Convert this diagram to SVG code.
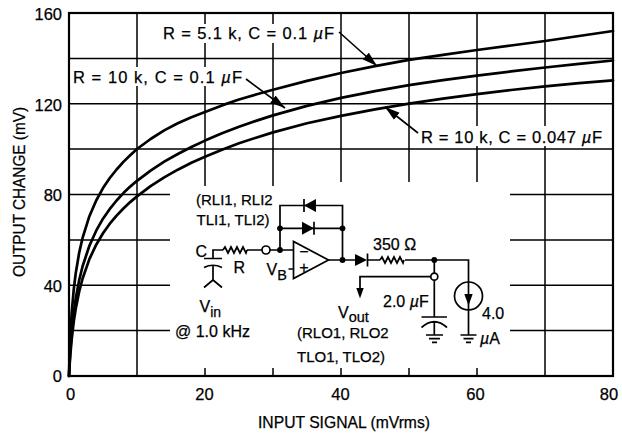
<svg xmlns="http://www.w3.org/2000/svg" width="622" height="437" viewBox="0 0 622 437">
<style>
text { font-family: "Liberation Sans", Arial, sans-serif; fill: #000; stroke: #000; stroke-width: 0.25; }
.t { font-size: 16.5px; }
.c { font-size: 16px; }
.s { font-size: 15px; }
.grid { stroke: #000; stroke-width: 1.5; fill: none; }
.curve { stroke: #000; stroke-width: 2.7; fill: none; stroke-linejoin: round; stroke-linecap: round; }
.w { stroke: #000; stroke-width: 1.7; fill: none; }
.blk { fill: #000; stroke: none; }
.bg { fill: #fff; stroke: none; }
.ptr { stroke: #000; stroke-width: 1.6; fill: none; marker-end: url(#ah); }
</style>
<defs>
<marker id="ah" markerUnits="userSpaceOnUse" markerWidth="16" markerHeight="10" refX="15" refY="5" orient="auto">
<path d="M0,0.5 L15,5 L0,9.5 Z" fill="#000"/>
</marker>
</defs>
<rect width="622" height="437" fill="#fff"/>

<g id="grid">
<path class="grid" d="M137,13V376 M545,13V376 M205,13V186 M273,13V186 M341,13V182 M409,13V182 M477,13V182 M205,368V376 M273,368V376 M341,368V376 M409,368V376 M477,368V376 M69,58.4H613 M69,103.8H613 M69,149.1H613 M69,194.5H170 M510,194.5H613 M69,239.9H170 M510,239.9H613 M69,285.3H170 M510,285.3H613 M69,330.6H170 M510,330.6H613"/>
<rect x="69" y="13" width="544" height="363" fill="none" stroke="#000" stroke-width="2.2"/>
</g>

<g id="axis-labels">
<text class="t" x="62" y="20" text-anchor="end">160</text>
<text class="t" x="62" y="111" text-anchor="end">120</text>
<text class="t" x="62" y="200.5" text-anchor="end">80</text>
<text class="t" x="62" y="291.5" text-anchor="end">40</text>
<text class="t" x="62" y="381.5" text-anchor="end">0</text>
<text class="t" x="70.5" y="400" text-anchor="middle">0</text>
<text class="t" x="204.5" y="400" text-anchor="middle">20</text>
<text class="t" x="340.5" y="400" text-anchor="middle">40</text>
<text class="t" x="475.5" y="400" text-anchor="middle">60</text>
<text class="t" x="609" y="400" text-anchor="middle">80</text>
<text class="t" x="258" y="428" textLength="172" lengthAdjust="spacingAndGlyphs">INPUT SIGNAL (mVrms)</text>
<text class="t" transform="translate(25,277) rotate(-90)" textLength="170" lengthAdjust="spacingAndGlyphs">OUTPUT CHANGE (mV)</text>
</g>

<g id="curves">
<polyline id="curve-5k1-0u1" class="curve" points="69,376 69.34,363.1 69.68,352.6 70.36,336 71.72,312.7 73.76,289.3 75.8,272.7 79.2,252.6 82.6,237.8 89.4,216.2 96.2,200.5 103,188.1 109.8,178 116.6,169.5 123.4,161.9 130.2,155.2 137,149 150.6,139 164.2,130.4 177.8,123.3 191.4,117.2 205,112 222,105.4 239,99.5 256,94.5 273,89.8 307,80.9 341,73 375,66.1 409,59.8 443,54.8 477,50 511,45.5 545,41 579,36 613,31"/>
<polyline id="curve-10k-0u1" class="curve" points="69,376 69.34,368.3 69.68,361.5 70.36,349.9 71.72,332.1 73.76,312.7 75.8,298.1 79.2,280 82.6,266.2 89.4,245.7 96.2,230.7 103,218.7 109.8,208.9 116.6,200.5 123.4,193.1 130.2,186.6 137,180.8 150.6,170.6 164.2,161.7 177.8,154 191.4,147 205,140.6 222,133.3 239,126.8 256,120.9 273,115.4 307,105.9 341,97.9 375,91.1 409,85.2 443,80.2 477,75.7 511,71.4 545,67.5 579,63.9 613,60.5"/>
<polyline id="curve-10k-0u047" class="curve" points="69,376 69.34,369.8 69.68,364.2 70.36,354.5 71.72,339 73.76,321.6 75.8,308.4 79.2,291.5 82.6,278.5 89.4,259.1 96.2,244.7 103,233.2 109.8,223.7 116.6,215.6 123.4,208.5 130.2,202.1 137,196.4 150.6,186.2 164.2,177.4 177.8,169.7 191.4,162.8 205,156.7 222,149.7 239,143.3 256,137.7 273,132.4 307,123.3 341,115.9 375,109.3 409,103.6 443,98.6 477,94.1 511,90 545,86.3 579,83.2 613,80.4"/>
</g>

<g id="label-5k1">
<rect class="bg" x="159" y="24" width="181" height="19"/>
<text class="t" x="163" y="39" textLength="171" lengthAdjust="spacing">R = 5.1 k, C = 0.1 <tspan font-style="italic">µ</tspan>F</text>
</g>
<g id="label-10k-0u1">
<rect class="bg" x="70.5" y="67" width="176" height="19"/>
<text class="t" x="73" y="83" textLength="169" lengthAdjust="spacing">R = 10 k, C = 0.1 <tspan font-style="italic">µ</tspan>F</text>
</g>
<g id="label-10k-0u047">
<rect class="bg" x="417" y="126" width="190" height="20"/>
<text class="t" x="421" y="142.5" textLength="181" lengthAdjust="spacing">R = 10 k, C = 0.047 <tspan font-style="italic">µ</tspan>F</text>
</g>

<g id="pointers">
<line class="ptr" x1="339" y1="32" x2="377" y2="66"/>
<line class="ptr" x1="246" y1="79" x2="285" y2="108"/>
<line class="ptr" x1="418" y1="133" x2="385" y2="107"/>
</g>

<g id="wires">
<path class="w" d="M213,258.5V250H223 M247,250H262 M270,250H293.5 M288.5,269H293.5 M280,250V205.5H342.5V260 M280,228.3H342.5 M328.5,260H355 M367.5,260H380 M405,260H468.5V282 M434.3,260V273.2 M434.3,280.2V317 M430.8,276.7H360V290 M468.5,310V335 M213,266V280"/>
</g>

<g id="vin-source">
<path class="w" d="M204,258.5H222 M204,267.5Q213,263 222,267.5 M213,280L204,287.5 M213,280L222,287.5"/>
<text class="c" x="195.5" y="257">C</text>
<text class="c" x="199.5" y="312">V<tspan dy="5" font-size="14">in</tspan></text>
<text class="c" x="175" y="336.5">@ 1.0 kHz</text>
</g>

<g id="r-in">
<path class="w" d="M223,250l2,-3l3,6l3,-6l3,6l3,-6l3,6l3,-6l3,6l1,-3"/>
<text class="c" x="233.5" y="272.5">R</text>
</g>

<g id="node-vb">
<circle cx="266" cy="250" r="4" fill="#fff" stroke="#000" stroke-width="1.7"/>
<text class="c" x="266.5" y="275">V<tspan dy="5" font-size="14.5">B</tspan></text>
</g>

<g id="feedback-diodes">
<polygon class="blk" points="304,205.5 316,199 316,212"/>
<path class="w" d="M304,199V212"/>
<polygon class="blk" points="302,221.8 302,234.8 314,228.3"/>
<path class="w" d="M314,221.8V234.8"/>
<text class="s" x="196" y="205">(RLI1, RLI2</text>
<text class="s" x="196.5" y="225">TLI1, TLI2)</text>
</g>

<g id="opamp">
<polygon points="293.5,241.5 293.5,278.5 328.5,260" fill="#fff" stroke="#000" stroke-width="1.7"/>
<text class="c" x="304" y="256.5" text-anchor="middle">−</text>
<text class="c" x="304" y="272.5" text-anchor="middle">+</text>
</g>

<g id="dots">
<circle class="blk" cx="280" cy="228.3" r="2.9"/>
<circle class="blk" cx="280" cy="250" r="2.9"/>
<circle class="blk" cx="342.5" cy="228.3" r="2.9"/>
<circle class="blk" cx="342.5" cy="260" r="2.9"/>
<circle class="blk" cx="434.3" cy="260" r="2.9"/>
</g>

<g id="out-diode">
<polygon class="blk" points="355,254 355,266 367,260"/>
<path class="w" d="M367.5,253.5V266.5"/>
</g>

<g id="r-350">
<path class="w" d="M380,260l2,-3l3,6l3,-6l3,6l3,-6l3,6l3,-6l3,6l1,-3"/>
<text class="c" x="373" y="249.5">350 Ω</text>
</g>

<g id="vout">
<circle cx="434.3" cy="276.7" r="3.5" fill="#fff" stroke="#000" stroke-width="1.7"/>
<polygon class="blk" points="356.3,288 363.7,288 360,298.5"/>
<text class="c" x="338" y="318">V<tspan dy="4" font-size="14.5">out</tspan></text>
<text class="s" x="297" y="338">(RLO1, RLO2</text>
<text class="s" x="297" y="362">TLO1, TLO2)</text>
</g>

<g id="c-out">
<path class="w" d="M421.5,317H447 M421.5,327.5Q434.3,316 447,327.5 M434.3,322V335 M426,335H443 M429,338.7H440 M432,342.4H437"/>
<text class="c" x="383" y="306.5">2.0 <tspan font-style="italic">µ</tspan>F</text>
</g>

<g id="i-source">
<circle cx="468.5" cy="296" r="14" fill="none" stroke="#000" stroke-width="1.7"/>
<path class="w" d="M468.5,282V310 M460.5,335H476.5 M463.5,338.7H473.5 M466,342.4H471"/>
<polygon class="blk" points="464.3,294 472.7,294 468.5,305.5"/>
<text class="c" x="482" y="318.5">4.0</text>
<text class="c" x="480" y="343.5"><tspan font-style="italic">µ</tspan>A</text>
</g>
</svg>
